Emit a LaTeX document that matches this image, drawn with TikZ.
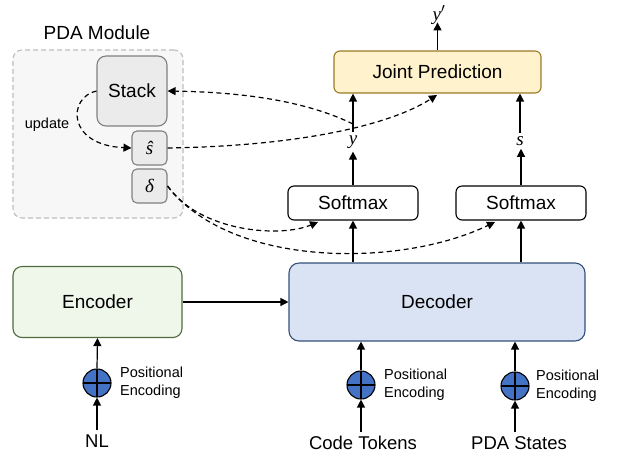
\documentclass[tikz,border=0pt]{standalone}
\usepackage{fontspec}
\setmainfont{Liberation Sans}
\newfontfamily\mifont{Liberation Serif}
\newcommand{\mvar}[1]{{\mifont\itshape #1}}
\usetikzlibrary{arrows.meta}
\definecolor{pdafill}{HTML}{F7F7F7}
\definecolor{pdaedge}{HTML}{BDBDBD}
\definecolor{stkfill}{HTML}{EBEBEB}
\definecolor{stkedge}{HTML}{808080}
\definecolor{jfill}{HTML}{FFF2CC}
\definecolor{jedge}{HTML}{9C7A24}
\definecolor{efill}{HTML}{EFF6EA}
\definecolor{eedge}{HTML}{4F6B3C}
\definecolor{dfill}{HTML}{DAE3F3}
\definecolor{dedge}{HTML}{34507A}
\definecolor{pefill}{HTML}{4472C4}
\tikzset{
  big/.style={font=\fontsize{19}{22}\selectfont},
  small/.style={font=\fontsize{14.5}{18}\selectfont},
  box/.style={draw, rounded corners=6pt, line width=1.1pt, inner sep=0pt, big},
  graybox/.style={box, fill=stkfill, draw=stkedge},
  arr/.style={line width=1.2pt, -{Triangle[length=8pt,width=8pt]}},
  darr/.style={line width=1.2pt, dash pattern=on 5pt off 3.5pt, -{Triangle[length=8pt,width=8pt]}},
  pe/.style={circle, draw, line width=1.1pt, fill=pefill, minimum size=28pt, inner sep=0pt,
    path picture={\draw[line width=1.1pt] (path picture bounding box.north) -- (path picture bounding box.south)
      (path picture bounding box.west) -- (path picture bounding box.east);}},
  lbl/.style={inner sep=0pt, big},
}
\begin{document}
\begin{tikzpicture}[x=1pt,y=-1pt]
\useasboundingbox (0,0) rectangle (617,459);
% PDA module
\node[draw=pdaedge, fill=pdafill, dash pattern=on 5pt off 3pt, line width=1.1pt, rounded corners=9pt,
  minimum width=170pt, minimum height=168pt, inner sep=0pt] (pda) at (98,134) {};
\node[lbl] (pdatitle) at (97,33) {PDA Module};
\node[graybox, minimum width=70pt, minimum height=70pt, rounded corners=9pt] (stack) at (132,91) {Stack};
\node[graybox, minimum width=35pt, minimum height=34pt, rounded corners=5pt] (shat) at (149.5,148) {\mvar{ŝ}};
\node[graybox, minimum width=35pt, minimum height=34pt, rounded corners=5pt] (delta) at (149.5,186) {\mvar{δ}};
\node[small, inner sep=0pt] (upd) at (47,125) {update};
% upper part
\node[box, fill=jfill, draw=jedge, minimum width=207pt, minimum height=42pt] (joint) at (437.5,72) {Joint Prediction};
\node[lbl] (yprime) at (439,15) {\mvar{y}$'$};
\node[lbl] (ylab) at (353,142) {\mvar{y}};
\node[lbl] (slab) at (520,141) {\mvar{s}};
\node[box, fill=white, minimum width=130pt, minimum height=34pt] (sm1) at (353,203) {Softmax};
\node[box, fill=white, minimum width=130pt, minimum height=34pt] (sm2) at (521,203) {Softmax};
% encoder / decoder
\node[box, fill=efill, draw=eedge, minimum width=169pt, minimum height=71pt, rounded corners=9pt] (enc) at (97.5,302) {Encoder};
\node[box, fill=dfill, draw=dedge, minimum width=296pt, minimum height=78pt, rounded corners=10pt] (dec) at (437,302) {Decoder};
% positional encodings
\node[pe] (c1) at (97,383) {};
\node[pe] (c2) at (361,385) {};
\node[pe] (c3) at (515,386) {};
\node[small, anchor=west, align=left, inner sep=0pt] (pe1) at (120,383) {Positional\\Encoding};
\node[small, anchor=west, align=left, inner sep=0pt] (pe2) at (384,385) {Positional\\Encoding};
\node[small, anchor=west, align=left, inner sep=0pt] (pe3) at (536,386) {Positional\\Encoding};
\node[lbl, font=\fontsize{18.5}{22}\selectfont] (in1) at (97,441) {NL};
\node[lbl, font=\fontsize{18.5}{22}\selectfont] (in2) at (363,443) {Code Tokens};
\node[lbl, font=\fontsize{18.5}{22}\selectfont] (in3) at (519,443) {PDA States};
% solid arrows
\draw[arr] ([yshift=4pt]in1.north) -- (c1.south);
\draw[arr] (c1.north) -- (enc.south);
\draw[arr] ([yshift=4pt]in2.north -| c2) -- (c2.south);
\draw[arr] (c2.north) -- (c2.north |- dec.south);
\draw[arr] ([yshift=4pt]in3.north -| c3) -- (c3.south);
\draw[arr] (c3.north) -- (c3.north |- dec.south);
\draw[arr] (enc.east) -- (dec.west |- enc.east);
\draw[arr] (sm1.south |- dec.north) -- (sm1.south);
\draw[arr] (sm2.south |- dec.north) -- (sm2.south);
\draw[arr] (sm1.north) -- ([yshift=-3pt]ylab.south -| sm1.north);
\draw[arr] (sm2.north) -- ([yshift=-3pt]slab.south -| sm2.north);
\draw[arr] ([yshift=3pt]ylab.north) -- (ylab.north |- joint.south);
\draw[arr] ([yshift=3pt]slab.north) -- (slab.north |- joint.south);
\draw[arr] (joint.north) -- ([yshift=2pt]yprime.south -| joint.north);
% dashed arrows
\coordinate (ymid) at (353,124);
\coordinate (jin) at (437,95);
\coordinate (s1in) at (318,222);
\coordinate (s2in) at (495,222);
\draw[darr] (stack.west) .. controls (68,97) and (66,145) .. (shat.west);
\draw[darr] (shat.east) .. controls (300,146) and (390,125) .. (jin);
\draw[darr] (ymid) .. controls (300,98) and (230,92) .. (stack.east);
\draw[darr] (delta.east) .. controls (200,232) and (280,238) .. (s1in);
\draw[darr] (delta.east) .. controls (230,268) and (400,268) .. (s2in);
\end{tikzpicture}
\end{document}
